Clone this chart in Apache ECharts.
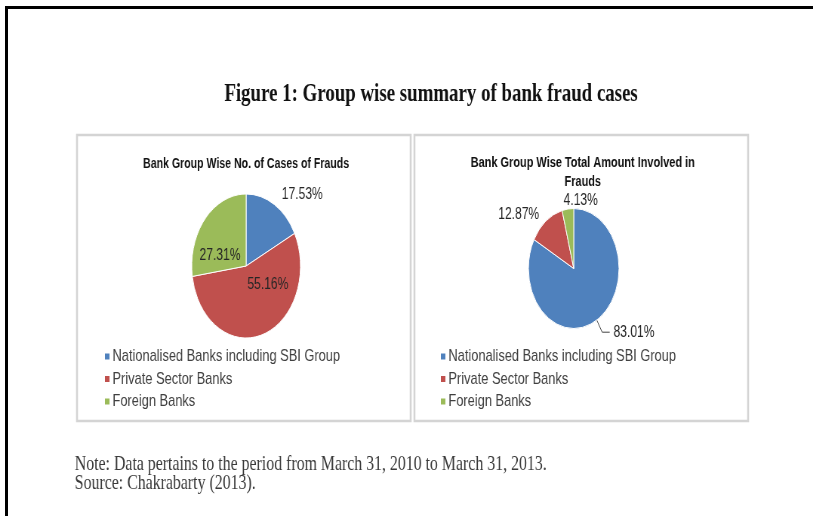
<!DOCTYPE html>
<html>
<head>
<meta charset="utf-8">
<script src="https://cdn.jsdelivr.net/npm/echarts@6/dist/echarts.min.js"></script>
<style>
html,body{margin:0;padding:0;background:#fff;overflow:hidden;width:813px;height:516px;}
#wrap{position:absolute;left:0;top:0;width:1077px;height:516px;transform:scaleX(0.7549);transform-origin:0 0;overflow:hidden;}
#chart{width:1077px;height:516px;}
#topline{position:absolute;left:5px;top:6px;width:808px;height:3px;background:#000;z-index:5;}
#leftline{position:absolute;left:5px;top:6px;width:3px;height:510px;background:#000;z-index:5;}
</style>
</head>
<body>
<div id="wrap"><div id="chart"></div></div>
<div id="topline"></div>
<div id="leftline"></div>
<script>
// ---- data ----
var categories = ['Nationalised Banks including SBI Group', 'Private Sector Banks', 'Foreign Banks'];
var casesShare = [17.53, 55.16, 27.31];      // % of number of fraud cases
var amountShare = [83.01, 12.87, 4.13];      // % of total amount involved
var mainTitle = 'Figure 1: Group wise summary of bank fraud cases';
var leftTitle = 'Bank Group Wise No. of Cases of Frauds';
var rightTitle = 'Bank Group Wise Total Amount Involved in\nFrauds';
var noteText = 'Note: Data pertains to the period from March 31, 2010 to March 31, 2013.';
var sourceText = 'Source: Chakrabarty (2013).';

var colors = ['#4F81BD', '#C0504D', '#9BBB59'];
var labelFont = 'Liberation Sans, Arial, sans-serif';
var serifFont = '"Liberation Serif", "Times New Roman", serif';

function fmt(p) { return p.value.toFixed(2) + '%'; }

var leftLabelCfg = [
  {label: {position: 'outside'}, labelLine: {show: false, length: 5, length2: 2}},
  {label: {position: 'inside'}},
  {label: {position: 'inside'}}
];
var rightLabelCfg = [
  {label: {position: 'outside'}, labelLine: {show: true, length: 14, length2: 10}},
  {label: {position: 'outside'}, labelLine: {show: false, length: 6, length2: 0}},
  {label: {position: 'outside'}, labelLine: {show: false, length: 10, length2: 2}}
];
// best-fit style label nudges (dx, dy), per series / data index
var labelNudge = [
  [[0, -6], [17, -19], [-5, 15]],
  [[0, 0], [0, -2], [48, 2]]
];

function buildData(vals, cfg) {
  return categories.map(function (c, i) {
    var d = {name: c, value: vals[i], itemStyle: {color: colors[i]}};
    if (cfg[i].label) d.label = cfg[i].label;
    if (cfg[i].labelLine) d.labelLine = cfg[i].labelLine;
    return d;
  });
}

function nudge(p) {
  var n = labelNudge[p.seriesIndex][p.dataIndex];
  if (!n || (!n[0] && !n[1])) return {};
  return {dx: n[0], dy: n[1]};
}

var chart = echarts.init(document.getElementById('chart'), null, {renderer: 'canvas'});

var legendCommon = {
  orient: 'vertical',
  icon: 'rect',
  itemWidth: 8,
  itemHeight: 8,
  itemGap: 5.5,
  selectedMode: false,
  textStyle: {fontFamily: labelFont, fontSize: 17, color: '#404040', padding: [0, 0, 0, -2]},
  data: categories
};

var option = {
  backgroundColor: '#ffffff',
  animation: false,
  title: [
    {text: mainTitle, left: 566, top: 77, textAlign: 'center',
     textStyle: {fontFamily: serifFont, fontWeight: 'bold', fontSize: 25, color: '#111'}},
    {text: leftTitle, left: 321, top: 152, textAlign: 'center',
     textStyle: {fontFamily: labelFont, fontWeight: 'bold', fontSize: 14, color: '#111'}},
    {text: rightTitle, left: 767, top: 148, textAlign: 'center',
     textStyle: {fontFamily: labelFont, fontWeight: 'bold', fontSize: 14.5, lineHeight: 19, color: '#111'}}
  ],
  legend: [
    Object.assign({}, legendCommon, {left: 132, top: 343}),
    Object.assign({}, legendCommon, {left: 577, top: 343})
  ],
  graphic: [
    // chart panels
    {type: 'rect', shape: {x: 102, y: 135, width: 442, height: 286}, style: {fill: 'none', stroke: '#d4d4d4', lineWidth: 2.5}, silent: true},
    {type: 'rect', shape: {x: 549, y: 135, width: 442, height: 286}, style: {fill: 'none', stroke: '#d4d4d4', lineWidth: 2.5}, silent: true},
    // notes
    {type: 'text', left: 99, top: 454, style: {text: noteText, font: '21px ' + serifFont, fill: '#3a3a3a'}},
    {type: 'text', left: 99, top: 473, style: {text: sourceText, font: '21px ' + serifFont, fill: '#3a3a3a'}}
  ],
  series: [
    {
      type: 'pie',
      center: [326, 266],
      radius: 72,
      startAngle: 90,
      clockwise: true,
      avoidLabelOverlap: false,
      minShowLabelAngle: 0,
      itemStyle: {borderColor: '#fff', borderWidth: 1},
      label: {formatter: fmt, fontFamily: labelFont, fontSize: 16, color: '#262626'},
      labelLine: {lineStyle: {color: '#404040', width: 1}},
      labelLayout: nudge,
      emphasis: {disabled: true},
      data: buildData(casesShare, leftLabelCfg)
    },
    {
      type: 'pie',
      center: [760, 268.5],
      radius: 60,
      startAngle: 90,
      clockwise: true,
      avoidLabelOverlap: false,
      minShowLabelAngle: 0,
      itemStyle: {borderColor: '#fff', borderWidth: 1},
      label: {formatter: fmt, fontFamily: labelFont, fontSize: 16, color: '#262626'},
      labelLine: {lineStyle: {color: '#404040', width: 1}, smooth: false},
      labelLayout: nudge,
      emphasis: {disabled: true},
      data: buildData(amountShare, rightLabelCfg)
    }
  ]
};
chart.setOption(option);
</script>
</body>
</html>
